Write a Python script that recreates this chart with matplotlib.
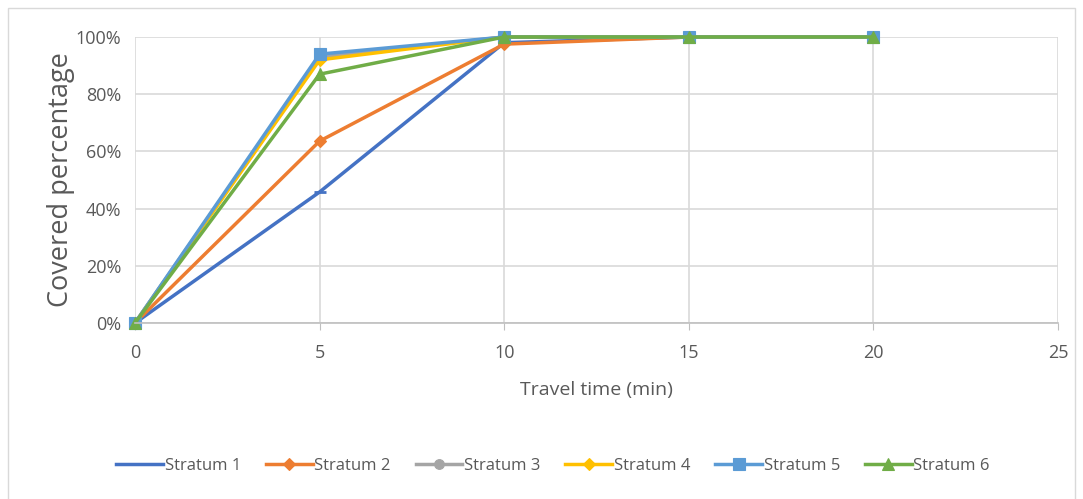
import numpy as np
import matplotlib.pyplot as plt
from matplotlib.patches import Rectangle
from matplotlib.ticker import PercentFormatter

plt.rcParams['font.family'] = ['Open Sans', 'DejaVu Sans']

# data
travel_time = [0, 5, 10, 15, 20]
stratum_names = ["Stratum 1", "Stratum 2", "Stratum 3", "Stratum 4", "Stratum 5", "Stratum 6"]
stratum_1 = [0, 45.8, 98.0, 100, 100]
stratum_2 = [0, 63.6, 97.5, 100, 100]
stratum_3 = [0, 93.0, 100, 100, 100]
stratum_4 = [0, 92.0, 100, 100, 100]
stratum_5 = [0, 94.0, 100, 100, 100]
stratum_6 = [0, 87.0, 100, 100, 100]

series = [stratum_1, stratum_2, stratum_3, stratum_4, stratum_5, stratum_6]
colors = ["#4472C4", "#ED7D31", "#A5A5A5", "#FFC000", "#5B9BD5", "#70AD47"]
markers = ["_", "D", "o", "D", "s", "^"]
sizes = [8, 6, 7, 6, 8, 8]

fig = plt.figure(figsize=(10.83, 4.99), dpi=100)
fig.patches.append(Rectangle((8 / 1083, -0.01), 1067 / 1083, 1 - 8 / 499 + 0.01,
                             transform=fig.transFigure, fill=False,
                             edgecolor="#D9D9D9", linewidth=1))
ax = fig.add_axes([135 / 1083, 1 - 323 / 499, 923 / 1083, 286 / 499])

for name, vals, c, m, s in zip(stratum_names, series, colors, markers, sizes):
    ax.plot(travel_time, vals, color=c, marker=m, markersize=s, linewidth=2.5,
            markeredgewidth=2 if m == "_" else 0.8, label=name, clip_on=False)

ax.set_xlim(0, 25)
ax.set_ylim(0, 100)
ax.set_xticks(np.arange(0, 26, 5))
ax.set_yticks(np.arange(0, 101, 20))
ax.yaxis.set_major_formatter(PercentFormatter(decimals=0))
ax.grid(True, color="#D9D9D9", linewidth=1.2)
ax.set_axisbelow(True)
for side in ["top", "right", "left"]:
    ax.spines[side].set_visible(False)
ax.spines["bottom"].set_color("#BFBFBF")
ax.spines["bottom"].set_linewidth(1.2)
ax.tick_params(axis="y", length=0, pad=10, labelsize=13, labelcolor="#595959")
ax.tick_params(axis="x", length=5, color="#BFBFBF", pad=10, labelsize=13, labelcolor="#595959")

ax.set_xlabel("Travel time (min)", fontsize=14, color="#595959", labelpad=14)
ax.set_ylabel("Covered percentage", fontsize=19.5, color="#595959", labelpad=0)

ax.legend(loc="center", bbox_to_anchor=(0.453, -0.5), ncol=6, frameon=False,
          fontsize=12, labelcolor="#595959", handlelength=2.8, handletextpad=0.1,
          columnspacing=1.5)

fig.savefig("out.png", dpi=100)
